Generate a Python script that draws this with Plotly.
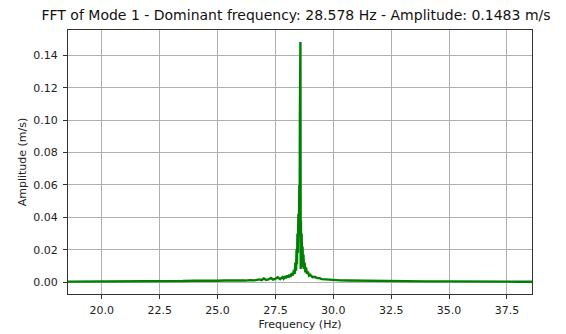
import plotly.graph_objects as go

title_text = "FFT of Mode 1 - Dominant frequency: 28.578 Hz - Amplitude: 0.1483 m/s"
x_label = "Frequency (Hz)"
y_label = "Amplitude (m/s)"

freq = [18.0, 19.0, 20.0, 21.0, 22.0, 22.5, 23.0, 23.5, 24.0, 24.3, 24.6, 25.0, 25.3, 25.6,
        26.0, 26.2, 26.4, 26.6, 26.8, 26.9, 27.0, 27.1, 27.2, 27.3, 27.4, 27.5, 27.6, 27.7,
        27.8, 27.85, 27.9, 27.95, 28.0, 28.05, 28.1, 28.15, 28.2, 28.25, 28.3, 28.33, 28.36,
        28.39, 28.41, 28.43, 28.45, 28.47, 28.49, 28.51, 28.53, 28.545, 28.555, 28.565, 28.578,
        28.585, 28.59, 28.6, 28.61, 28.63, 28.65, 28.67, 28.69, 28.71, 28.73, 28.76, 28.79,
        28.82, 28.86, 28.9, 28.95, 29.0, 29.1, 29.2, 29.3, 29.4, 29.5, 29.7, 30.0, 30.3, 30.6, 31.0,
        31.5, 32.0, 33.0, 34.0, 35.0, 35.5, 36.0, 37.0, 38.0, 39.0]
amplitude = [0.0002, 0.0002, 0.0002, 0.0003, 0.0003, 0.0004, 0.0005, 0.0006, 0.0008, 0.0007, 0.0009, 0.0008, 0.0009, 0.0008,
             0.0010, 0.0009, 0.0012, 0.0010, 0.0016, 0.0012, 0.0022, 0.0013, 0.0016, 0.0025, 0.0015, 0.0020, 0.0030, 0.0018,
             0.0030, 0.0020, 0.0035, 0.0024, 0.0040, 0.0028, 0.0045, 0.0032, 0.0055, 0.0040, 0.0075, 0.0050, 0.0120,
             0.0070, 0.0200, 0.0110, 0.0300, 0.0180, 0.0420, 0.0280, 0.0600, 0.0350, 0.1010, 0.0450, 0.1483,
             0.0400, 0.0080, 0.0380, 0.0150, 0.0300, 0.0120, 0.0220, 0.0090, 0.0170, 0.0080, 0.0120, 0.0060,
             0.0090, 0.0050, 0.0065, 0.0040, 0.0045, 0.0030, 0.0032, 0.0024, 0.0024, 0.0018, 0.0015, 0.0012, 0.0010, 0.0009, 0.0008,
             0.0006, 0.0005, 0.0004, 0.0004, 0.0004, 0.0003, 0.0002, 0.0002, 0.0002, 0.0002]

x_ticks = [20.0, 22.5, 25.0, 27.5, 30.0, 32.5, 35.0, 37.5]
y_ticks = [0.00, 0.02, 0.04, 0.06, 0.08, 0.10, 0.12, 0.14]

fig = go.Figure()
fig.add_trace(go.Scatter(x=freq, y=amplitude, mode="lines",
                         line=dict(color="#008000", width=2.4), showlegend=False))

font_family = "DejaVu Sans"
axis_common = dict(
    showgrid=True, gridcolor="#b0b0b0", gridwidth=0.8,
    showline=True, linecolor="#333333", linewidth=1, mirror=True,
    ticks="outside", ticklen=4, tickcolor="#333333", tickwidth=1,
    zeroline=False, automargin=False,
    tickfont=dict(family=font_family, size=11, color="#222222"),
    title_font=dict(family=font_family, size=11, color="#222222"),
)

fig.update_layout(
    width=566, height=334,
    margin=dict(l=68, r=34, t=30, b=40, autoexpand=False),
    paper_bgcolor="white", plot_bgcolor="white",
    title=dict(text=title_text, x=0.523, xanchor="center", y=0.955, yanchor="middle",
               font=dict(family=font_family, size=14, color="#111111")),
    xaxis=dict(range=[18.54, 38.58], tickvals=x_ticks, ticktext=[f"{v:.1f}" for v in x_ticks],
               ticklabelstandoff=2,
               title=dict(text=x_label, standoff=4), **axis_common),
    yaxis=dict(range=[-0.0074, 0.1557], tickvals=y_ticks, ticktext=[f"{v:.2f}" for v in y_ticks],
               ticklabelstandoff=3,
               title=dict(text=y_label, standoff=4), **axis_common),
)

fig.write_html("out.html")
